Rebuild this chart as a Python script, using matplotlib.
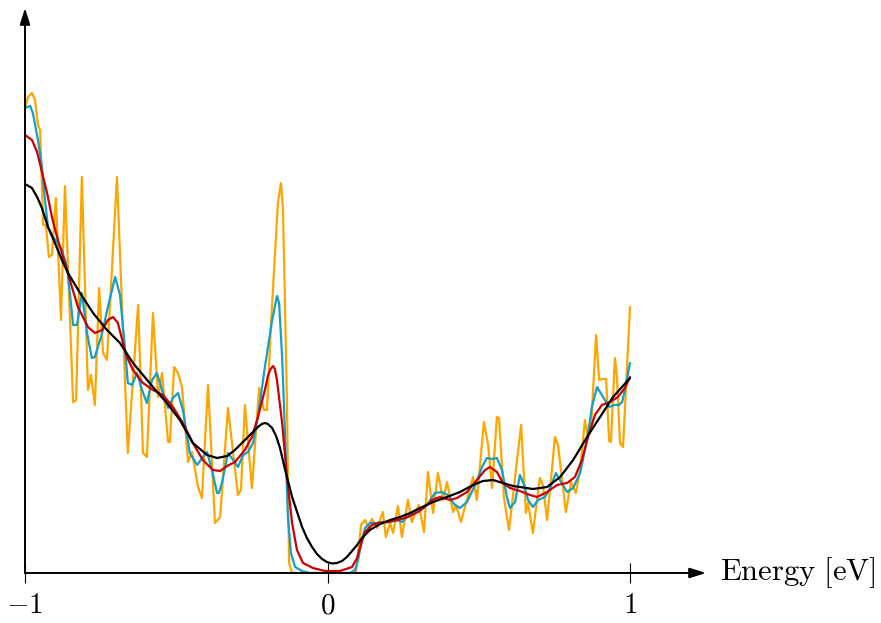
import matplotlib
matplotlib.use("Agg")
import matplotlib.pyplot as plt

plt.rcParams["mathtext.fontset"] = "cm"
plt.rcParams["font.family"] = ["DejaVu Serif"]

# Raw density of states (orange)
raw_energy = [
    -1.000, -0.990, -0.977, -0.967, -0.957, -0.950, -0.940, -0.931, -0.921, -0.911,
    -0.898, -0.881, -0.868, -0.841, -0.831, -0.812, -0.792, -0.782, -0.769, -0.755,
    -0.742, -0.729, -0.696, -0.660, -0.626, -0.610, -0.597, -0.577, -0.560, -0.547,
    -0.527, -0.521, -0.507, -0.494, -0.481, -0.461, -0.448, -0.428, -0.415, -0.395,
    -0.372, -0.355, -0.329, -0.296, -0.286, -0.273, -0.250, -0.226, -0.210, -0.200,
    -0.187, -0.164, -0.154, -0.147, -0.134, -0.127, -0.117, 0.094, 0.111, 0.124,
    0.134, 0.147, 0.164, 0.183, 0.193, 0.207, 0.217, 0.233, 0.246, 0.266,
    0.279, 0.289, 0.302, 0.319, 0.332, 0.349, 0.365, 0.382, 0.395, 0.415,
    0.425, 0.441, 0.481, 0.494, 0.517, 0.531, 0.544, 0.560, 0.567, 0.583,
    0.600, 0.640, 0.656, 0.663, 0.679, 0.702, 0.712, 0.726, 0.752, 0.762,
    0.788, 0.805, 0.821, 0.835, 0.851, 0.861, 0.871, 0.888, 0.898, 0.911,
    0.921, 0.931, 0.937, 0.950, 0.957, 0.967, 0.977, 1.000,
]
raw_dos = [
    4.65, 4.76, 4.80, 4.73, 4.48, 4.43, 3.48, 3.48, 3.16, 3.18,
    3.75, 2.53, 3.87, 1.71, 1.73, 3.96, 1.83, 1.98, 1.68, 2.85,
    2.20, 2.13, 3.96, 1.20, 2.68, 1.20, 1.16, 2.60, 1.76, 2.00,
    1.31, 1.31, 2.06, 2.00, 1.86, 1.11, 1.21, 0.86, 0.75, 1.88,
    0.50, 0.56, 1.65, 0.78, 0.83, 1.68, 0.85, 1.85, 1.63, 1.63,
    2.48, 3.70, 3.90, 3.63, 1.70, 0.10, 0.00, 0.00, 0.48, 0.53,
    0.46, 0.54, 0.45, 0.61, 0.36, 0.50, 0.40, 0.67, 0.36, 0.73,
    0.51, 0.59, 0.68, 0.41, 1.01, 0.60, 1.00, 0.73, 0.91, 0.61,
    0.68, 0.51, 0.96, 0.73, 1.51, 1.28, 0.85, 1.56, 1.55, 0.76,
    0.43, 1.48, 0.60, 0.70, 0.40, 0.95, 0.88, 0.53, 1.36, 1.28,
    0.61, 0.91, 0.80, 1.03, 1.53, 1.36, 1.45, 2.38, 1.93, 1.94,
    1.94, 1.32, 1.31, 2.15, 1.95, 1.30, 1.26, 2.66,
]

# Narrow broadening (blue)
narrow_energy = [
    -1.000, -0.983, -0.974, -0.957, -0.944, -0.934, -0.924, -0.907, -0.891, -0.878,
    -0.861, -0.851, -0.841, -0.828, -0.812, -0.795, -0.779, -0.769, -0.745, -0.726,
    -0.702, -0.686, -0.669, -0.660, -0.646, -0.630, -0.613, -0.597, -0.580, -0.564,
    -0.547, -0.527, -0.511, -0.494, -0.478, -0.455, -0.431, -0.412, -0.398, -0.382,
    -0.365, -0.359, -0.349, -0.329, -0.312, -0.296, -0.279, -0.263, -0.246, -0.230,
    -0.207, -0.183, -0.167, -0.160, -0.150, -0.140, -0.131, -0.121, -0.107, -0.084,
    -0.058, 0.074, 0.091, 0.101, 0.114, 0.124, 0.140, 0.164, 0.183, 0.207,
    0.230, 0.246, 0.263, 0.283, 0.306, 0.329, 0.355, 0.378, 0.398, 0.421,
    0.438, 0.461, 0.488, 0.511, 0.527, 0.544, 0.560, 0.577, 0.593, 0.603,
    0.620, 0.636, 0.650, 0.663, 0.679, 0.696, 0.719, 0.736, 0.755, 0.774,
    0.792, 0.812, 0.835, 0.858, 0.874, 0.891, 0.907, 0.917, 0.931, 0.947,
    0.964, 0.974, 0.983, 1.000,
]
narrow_dos = [
    4.65, 4.67, 4.60, 4.33, 4.06, 3.73, 3.46, 3.36, 3.30, 3.23,
    3.06, 2.78, 2.48, 2.48, 2.80, 2.40, 2.15, 2.16, 2.40, 2.66,
    2.96, 2.78, 2.23, 1.90, 1.88, 2.00, 1.83, 1.70, 1.93, 2.00,
    1.83, 1.65, 1.75, 1.80, 1.63, 1.20, 1.08, 1.16, 1.21, 1.03,
    0.80, 0.80, 0.90, 1.20, 1.13, 1.06, 1.18, 1.21, 1.30, 1.56,
    2.06, 2.53, 2.77, 2.70, 2.16, 1.36, 0.56, 0.20, 0.06, 0.02,
    0.00, 0.00, 0.03, 0.13, 0.33, 0.45, 0.50, 0.50, 0.51, 0.51,
    0.53, 0.51, 0.56, 0.60, 0.62, 0.68, 0.80, 0.81, 0.78, 0.68,
    0.65, 0.71, 0.88, 1.06, 1.15, 1.14, 1.15, 1.03, 0.76, 0.65,
    0.71, 0.98, 0.88, 0.73, 0.66, 0.73, 0.76, 0.85, 1.00, 0.90,
    0.81, 0.85, 1.00, 1.33, 1.66, 1.86, 1.78, 1.73, 1.66, 1.68,
    1.68, 1.71, 1.83, 2.10,
]

# Medium broadening (red)
medium_energy = [
    -1.000, -0.977, -0.960, -0.944, -0.927, -0.911, -0.894, -0.878, -0.861, -0.845,
    -0.825, -0.792, -0.769, -0.745, -0.726, -0.709, -0.693, -0.676, -0.663, -0.643,
    -0.610, -0.577, -0.544, -0.511, -0.478, -0.445, -0.412, -0.379, -0.355, -0.332,
    -0.306, -0.273, -0.250, -0.230, -0.207, -0.197, -0.190, -0.180, -0.174, -0.167,
    -0.150, -0.134, -0.117, -0.101, -0.081, -0.048, -0.008, 0.041, 0.081, 0.098,
    0.107, 0.124, 0.147, 0.167, 0.200, 0.233, 0.266, 0.299, 0.329, 0.345,
    0.372, 0.405, 0.428, 0.461, 0.494, 0.521, 0.537, 0.560, 0.580, 0.603,
    0.636, 0.669, 0.693, 0.726, 0.759, 0.792, 0.818, 0.841, 0.861, 0.884,
    0.907, 0.934, 0.960, 0.983, 1.000,
]
medium_dos = [
    4.38, 4.33, 4.21, 4.01, 3.80, 3.56, 3.36, 3.20, 3.03, 2.86,
    2.66, 2.46, 2.40, 2.43, 2.53, 2.56, 2.50, 2.30, 2.16, 2.03,
    1.90, 1.83, 1.78, 1.66, 1.50, 1.30, 1.13, 1.03, 1.02, 1.07,
    1.11, 1.23, 1.36, 1.56, 1.83, 1.97, 2.03, 2.07, 2.04, 1.93,
    1.50, 0.96, 0.50, 0.23, 0.10, 0.05, 0.02, 0.02, 0.06, 0.15,
    0.25, 0.41, 0.48, 0.50, 0.51, 0.53, 0.56, 0.61, 0.68, 0.73,
    0.76, 0.73, 0.75, 0.81, 0.93, 1.03, 1.06, 1.01, 0.90, 0.85,
    0.82, 0.78, 0.76, 0.81, 0.88, 0.90, 0.96, 1.13, 1.36, 1.58,
    1.68, 1.71, 1.76, 1.85, 1.96,
]

# Wide broadening (black)
wide_energy = [
    -1.000, -0.977, -0.960, -0.944, -0.924, -0.901, -0.878, -0.858, -0.818, -0.775,
    -0.729, -0.686, -0.643, -0.577, -0.531, -0.488, -0.445, -0.398, -0.365, -0.332,
    -0.306, -0.263, -0.230, -0.217, -0.207, -0.197, -0.183, -0.170, -0.157, -0.140,
    -0.117, -0.084, -0.068, -0.051, -0.035, -0.018, -0.002, 0.015, 0.031, 0.048,
    0.064, 0.081, 0.098, 0.114, 0.140, 0.174, 0.207, 0.240, 0.273, 0.306,
    0.349, 0.395, 0.438, 0.481, 0.514, 0.547, 0.580, 0.613, 0.636, 0.679,
    0.726, 0.769, 0.812, 0.858, 0.901, 0.944, 1.000,
]
wide_dos = [
    3.89, 3.85, 3.76, 3.65, 3.46, 3.30, 3.13, 3.00, 2.80, 2.60,
    2.43, 2.30, 2.10, 1.86, 1.70, 1.53, 1.30, 1.18, 1.15, 1.17,
    1.23, 1.36, 1.46, 1.49, 1.50, 1.49, 1.45, 1.37, 1.25, 1.03,
    0.76, 0.46, 0.35, 0.26, 0.19, 0.14, 0.11, 0.095, 0.10, 0.12,
    0.16, 0.22, 0.28, 0.35, 0.43, 0.49, 0.53, 0.56, 0.60, 0.65,
    0.71, 0.76, 0.81, 0.88, 0.92, 0.93, 0.90, 0.87, 0.86, 0.84,
    0.86, 0.96, 1.13, 1.36, 1.56, 1.76, 1.95,
]

tick_positions = [-1, 0, 1]
tick_labels = [r"$-1$", r"$0$", r"$1$"]
x_label = r"$\mathrm{Energy\ [eV]}$"

W, H = 881, 623
fig = plt.figure(figsize=(W / 100, H / 100), dpi=100)
# axes box in pixels: left edge at E=-1, right edge at the arrow tip
x0, x1, y_base, y_top = 25, 706, 573, 8
ax = fig.add_axes([x0 / W, (H - y_base) / H, (x1 - x0) / W, (y_base - y_top) / H])
ax.set_xlim(-1, (x1 - x0) / 302.5 - 1)
ax.set_ylim(0, (y_base - y_top) / 100)
for s in ax.spines.values():
    s.set_visible(False)

lw = 1.6
line_style = dict(lw=lw, solid_joinstyle="round", solid_capstyle="round")
ax.plot(raw_energy, raw_dos, color="#FFA500", zorder=2, **line_style)
ax.plot(narrow_energy, narrow_dos, color="#139FC6", zorder=3, **line_style)
ax.plot(medium_energy, medium_dos, color="#CC0000", zorder=4, **line_style)
ax.plot(wide_energy, wide_dos, color="black", zorder=5, **line_style)

# axis arrows
arrow = dict(arrowstyle="-|>,head_length=0.7,head_width=0.22", color="black",
             lw=1.4, shrinkA=0, shrinkB=0, mutation_scale=14)
ax.annotate("", xy=(1, 0), xytext=(0, 0), xycoords="axes fraction",
            arrowprops=arrow, zorder=6, annotation_clip=False)
ax.annotate("", xy=(0, 1), xytext=(0, 0), xycoords="axes fraction",
            arrowprops=arrow, zorder=6, annotation_clip=False)

ax.set_yticks([])
ax.set_xticks(tick_positions, labels=tick_labels)
ax.tick_params(axis="x", direction="inout", length=14.4, width=0.8,
               pad=6, labelsize=21, colors="black")

fig.text(720 / W, (H - 580) / H, x_label, fontsize=22, ha="left", va="baseline")

fig.savefig("out.png", dpi=100)
